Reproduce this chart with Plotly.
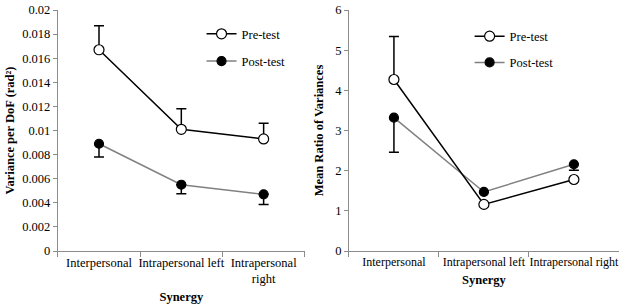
import plotly.graph_objects as go

categories_left = ["Interpersonal", "Intrapersonal left", "Intrapersonal<br>right"]
categories_right = ["Interpersonal", "Intrapersonal left", "Intrapersonal right"]

pre_var = [0.0167, 0.0101, 0.0093]
pre_var_err = [0.0020, 0.0017, 0.0013]
post_var = [0.0089, 0.0055, 0.0047]
post_var_err = [0.0011, 0.00075, 0.00085]

pre_ratio = [4.27, 1.16, 1.78]
pre_ratio_err = [1.07, 0.0, 0.0]
post_ratio = [3.32, 1.47, 2.16]
post_ratio_err = [0.86, 0.0, 0.15]

yticks_left = [0, 0.002, 0.004, 0.006, 0.008, 0.01, 0.012, 0.014, 0.016, 0.018, 0.02]
yticks_right = [0, 1, 2, 3, 4, 5, 6]

FONT = "Liberation Serif"
AX = "#8c8c8c"

fig = go.Figure()

def add(x, y, err, up, name, xa, ya, legend, color, fill, rank):
    fig.add_trace(go.Scatter(
        x=x, y=y, mode="lines+markers", name=name,
        xaxis=xa, yaxis=ya, legend=legend, showlegend=True,
        legendgroup=name + legend, legendrank=rank,
        line=dict(color=color, width=1.5),
        marker=dict(size=10 if fill == "white" else 9, color=fill,
                    line=dict(color="black", width=1.2)),
        error_y=dict(type="data", symmetric=False,
                     array=err if up else [0] * len(err),
                     arrayminus=[0] * len(err) if up else err,
                     color="black", thickness=1.5, width=5),
    ))

add(categories_left, pre_var, pre_var_err, True, "Pre-test", "x", "y", "legend", "black", "white", 1)
add(categories_left, post_var, post_var_err, False, "Post-test", "x", "y", "legend", "#808080", "black", 2)
add(categories_right, post_ratio, post_ratio_err, False, "Post-test", "x2", "y2", "legend2", "#808080", "black", 2)
add(categories_right, pre_ratio, pre_ratio_err, True, "Pre-test", "x2", "y2", "legend2", "black", "white", 1)

tickfont = dict(family=FONT, size=12.5, color="black")
titlefont = dict(family=FONT, size=12.5, color="black", weight="bold")

xcommon = dict(type="category", range=[-0.5, 2.5], showline=True, linecolor=AX,
               linewidth=1, ticks="outside", tickson="boundaries", ticklen=5,
               tickcolor=AX, tickfont=tickfont, tickangle=0, showgrid=False,
               zeroline=False, automargin=False,
               title=dict(text="<b>Synergy</b>", font=titlefont, standoff=6))
ycommon = dict(showline=True, linecolor=AX, linewidth=1, ticks="outside",
               ticklen=4, tickcolor=AX, tickfont=tickfont, showgrid=False,
               zeroline=False, automargin=False)

fig.update_layout(
    width=622, height=304,
    margin=dict(l=0, r=0, t=10, b=53),
    paper_bgcolor="white", plot_bgcolor="white",
    font=dict(family=FONT, color="black"),
    xaxis=dict(domain=[0.093, 0.49], anchor="y", **xcommon),
    yaxis=dict(domain=[0, 1], anchor="x", range=[0, 0.02], tickvals=yticks_left,
               ticktext=[f"{v:g}" for v in yticks_left],
               title=dict(text="<b>Variance per DoF (rad²)</b>", font=titlefont, standoff=4),
               **ycommon),
    xaxis2=dict(domain=[0.561, 0.995], anchor="y2", **xcommon),
    yaxis2=dict(domain=[0, 1], anchor="x2", range=[0, 6], tickvals=yticks_right,
                title=dict(text="<b>Mean Ratio of Variances</b>", font=titlefont, standoff=8),
                **ycommon),
    legend=dict(x=0.324, y=0.962, xanchor="left", yanchor="top", bgcolor="rgba(0,0,0,0)",
                font=dict(family=FONT, size=12.5, color="black"), tracegroupgap=8,
                itemwidth=30),
    legend2=dict(x=0.755, y=0.952, xanchor="left", yanchor="top", bgcolor="rgba(0,0,0,0)",
                 font=dict(family=FONT, size=12.5, color="black"), tracegroupgap=7,
                 itemwidth=30),
)
fig.update_xaxes(tickfont=dict(size=12), selector=dict(anchor="y2"))

fig.write_html("out.html", config={"displayModeBar": False},
               post_script="document.body.style.margin='0';document.body.style.overflow='hidden';")
